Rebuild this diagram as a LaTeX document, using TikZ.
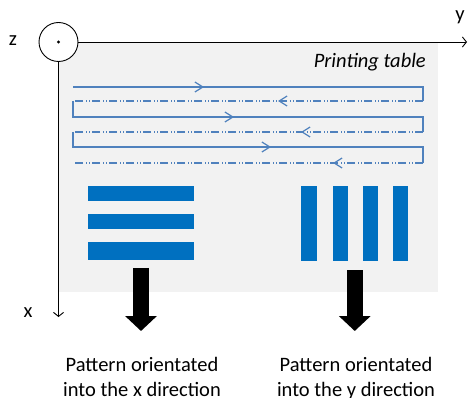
\documentclass[tikz,border=0pt]{standalone}
\usepackage{fontspec}
\setmainfont{Carlito}
\usetikzlibrary{positioning,arrows.meta,decorations.markings,fit}
\definecolor{scan}{RGB}{79,129,189}
\definecolor{stripe}{RGB}{0,112,192}
\definecolor{tablegray}{RGB}{242,242,242}

\begin{document}
\begin{tikzpicture}[x=1pt,y=-1pt,
    lbl/.style={font=\fontsize{20.5}{25}\selectfont,inner sep=0pt},
    axis/.style={draw=black,line width=0.9pt,-{Straight Barb[length=4pt,width=10pt]}},
    pass/.style={draw=scan,line width=1.2pt,line join=miter},
    back/.style={pass,dash pattern=on 8pt off 2.5pt on 1pt off 2pt on 1pt off 2.5pt},
    chev/.style={postaction={decorate,decoration={markings,
        mark=at position #1 with {\arrow{Straight Barb[length=8pt,width=10pt,line width=1.2pt]}}}}},
    hbar/.style={fill=stripe,minimum width=106pt,minimum height=15pt,inner sep=0pt},
    vbar/.style={fill=stripe,minimum width=15.5pt,minimum height=75pt,inner sep=0pt},
    bigarrow/.style={line width=16pt,-{Triangle[length=15pt,width=31pt]}}
  ]
    \useasboundingbox (0,0) rectangle (468,398);
    % printing table
    \fill[tablegray] (58,42) rectangle (438,292);
    \node[lbl,font=\fontsize{20.5}{25}\selectfont\itshape,anchor=east] (tlab) at (426,62) {Printing table};

    % coordinate system
    \node[circle,draw,line width=0.9pt,fill=white,minimum size=39pt,inner sep=0pt] (zax) at (58.5,42) {};
    \fill (zax.center) circle (1.6pt);
    \coordinate (yend) at (467,42);
    \coordinate (xend) at (58.5,317);
    \draw[axis] (zax.east) -- (yend);
    \draw[axis] (zax.south) -- (xend);
    \node[lbl] (ylab) at (460,17) {y};
    \node[lbl] (zlab) at (13,41) {z};
    \node[lbl] (xlab) at (28,313) {x};

    % scan path
    \draw[pass,chev=131pt] (73,87) -- (423,87) -- (423,101);
    \draw[back,chev=145pt] (423,101) -- (73,101);
    \draw[pass,chev=177pt] (73,101) -- (73,117) -- (423,117) -- (423,132);
    \draw[back,chev=122pt] (423,132) -- (73,132);
    \draw[pass,chev=213pt] (73,132) -- (73,147) -- (423,147) -- (423,163);
    \draw[back,chev=90pt] (423,163) -- (73,163);

    % patterns
    \foreach \yc [count=\i] in {193.5,221,251} {
      \node[hbar] (h\i) at (141,\yc) {};
    }
    \node[hbar,minimum height=18pt] at (h3) {};
    \foreach \xc [count=\i] in {309,340.5,370.5,400.5} {
      \node[vbar] (v\i) at (\xc,223.5) {};
    }
    \node[fit=(h1)(h3),inner sep=0pt] (xpat) {};
    \node[fit=(v1)(v4),inner sep=0pt] (ypat) {};

    \node[lbl,align=center,anchor=north] (xtext) at (142,357) {Pattern orientated\\into the x direction};
    \node[lbl,align=center,anchor=north] (ytext) at (356,357) {Pattern orientated\\into the y direction};

    \draw[bigarrow] ([yshift=-9pt]xpat.south) -- ([yshift=-331pt]xpat.south |- 0,0);
    \draw[bigarrow] ([yshift=-9pt]ypat.south) -- ([yshift=-331pt]ypat.south |- 0,0);
\end{tikzpicture}
\end{document}
